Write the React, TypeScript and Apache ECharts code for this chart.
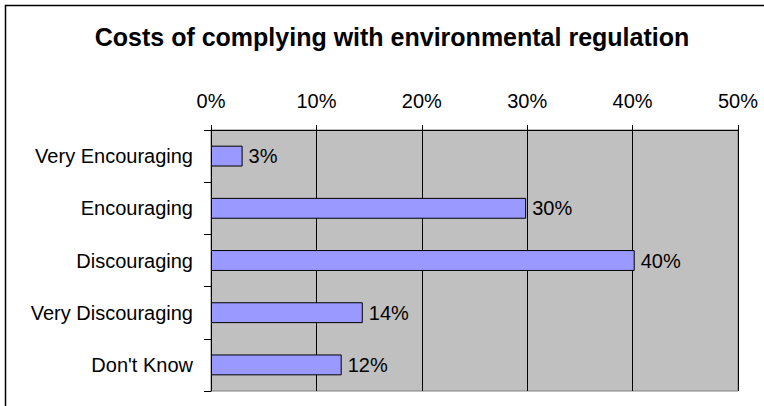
import React, { useEffect, useRef } from "react";
import * as echarts from "echarts";

const categories = ["Very Encouraging", "Encouraging", "Discouraging", "Very Discouraging", "Don't Know"];
const values = [3.0, 29.9, 40.2, 14.4, 12.4];
const xTicks = [0, 10, 20, 30, 40, 50];
const title = "Costs of complying with environmental regulation";

export default function App() {
  const ref = useRef<HTMLDivElement>(null);
  useEffect(() => {
    document.body.style.margin = "0";
    const chart = echarts.init(ref.current!, null, { renderer: "svg" });
    const font = "'Liberation Sans', Arial, sans-serif";
    chart.setOption({
      animation: false,
      backgroundColor: "#ffffff",
      graphic: [
        {
          type: "polyline",
          shape: { points: [[5.5, 406], [5.5, 5.5], [764, 5.5]] },
          style: { stroke: "#000", lineWidth: 1.5, fill: "none" },
          silent: true,
        },
        {
          type: "text",
          x: 392,
          y: 36.5,
          style: {
            text: title,
            textAlign: "center",
            textVerticalAlign: "middle",
            fontFamily: font,
            fontSize: 25,
            fontWeight: "bold",
            fill: "#000",
          },
          silent: true,
        },
      ],
      grid: {
        left: 211,
        right: 764 - 738,
        top: 130,
        bottom: 406 - 391,
        show: true,
        backgroundColor: "#C0C0C0",
        borderColor: "#808080",
        borderWidth: 1,
      },
      xAxis: {
        type: "value",
        position: "top",
        min: xTicks[0],
        max: xTicks[xTicks.length - 1],
        interval: 10,
        axisLine: { show: true, lineStyle: { color: "#000", width: 1 } },
        axisTick: { show: true, length: 5, lineStyle: { color: "#000" } },
        axisLabel: {
          formatter: (v: number) => `${v}%`,
          fontFamily: font,
          fontSize: 20,
          color: "#000",
          margin: 19,
        },
        splitLine: { show: true, lineStyle: { color: "#000", width: 1 } },
      },
      yAxis: {
        type: "category",
        data: categories,
        inverse: true,
        axisLine: { show: true, lineStyle: { color: "#000", width: 1 } },
        axisTick: { show: true, length: 7, lineStyle: { color: "#000" } },
        axisLabel: { fontFamily: font, fontSize: 20, color: "#000", margin: 18 },
        splitLine: { show: false },
      },
      series: [
        {
          type: "bar",
          data: values,
          barWidth: "40%",
          itemStyle: { color: "#9999FF", borderColor: "#000", borderWidth: 1 },
          label: {
            show: true,
            position: "right",
            distance: 6,
            formatter: (p: any) => `${Math.round(p.value)}%`,
            fontFamily: font,
            fontSize: 20,
            color: "#000",
          },
        },
      ],
    });
    return () => chart.dispose();
  }, []);
  return <div ref={ref} style={{ width: 764, height: 406 }} />;
}
